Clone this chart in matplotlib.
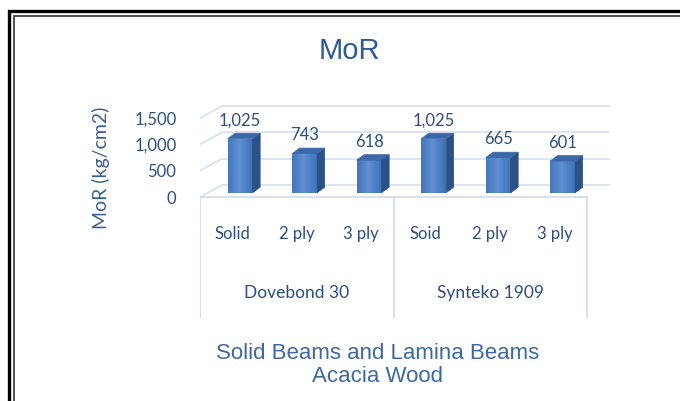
import matplotlib
matplotlib.use("Agg")
import matplotlib.pyplot as plt
from matplotlib.patches import Polygon, Rectangle
import numpy as np

# ---- data ----
categories = ["Solid", "2 ply", "3 ply", "Soid", "2 ply", "3 ply"]
groups = ["Dovebond 30", "Synteko 1909"]
values = [1025, 743, 618, 1025, 665, 601]
yticks = [0, 500, 1000, 1500]
title = "MoR"
ylabel = "MoR (kg/cm2)"
xtitle = "Solid Beams and Lamina Beams\nAcacia Wood"

W, H = 680, 401
fig = plt.figure(figsize=(W / 100, H / 100), dpi=100)
fig.patch.set_facecolor("white")

CAL = ["Lato", "DejaVu Sans"]
ARI = ["Liberation Sans", "DejaVu Sans"]
TXT = "#2D4E7E"
GRID = "#D8E3F1"
TABLE = "#D3DEEB"

# axes geometry in pixels
px_l, px_r, px_t, px_b = 200, 620, 95, 320
cat_px = 64.5
K = 19.0          # value units per pixel
y0_px = 197       # pixel row of value 0 on the front plane
ax = fig.add_axes([px_l / W, 1 - px_b / H, (px_r - px_l) / W, (px_b - px_t) / H])
ax.set_xlim(0, (px_r - px_l) / cat_px)
ax.set_ylim((y0_px - px_b) * K, (y0_px - px_t) * K)
for s in ax.spines.values():
    s.set_visible(False)
ax.set_facecolor("none")

n = len(values)
DX, DY = 22 / cat_px, 12 * K          # depth of the floor / back wall
f = 0.36
dx0, dy0 = f * DX, f * DY            # bar front plane offset
bw = 25 / cat_px
bdx, bdy = 7.5 / cat_px, 5.5 * K

# back wall + side wall gridlines
for v in yticks:
    ax.plot([DX, n + DX], [v + DY, v + DY], color=GRID, lw=1.3, zorder=1)
    ax.plot([0, DX], [v, v + DY], color=GRID, lw=1.3, zorder=1)

# table lines (category axis)
ybot = (y0_px - 317) * K
ax.plot([0, n], [0, 0], color=TABLE, lw=1.3, zorder=2)
for xv in [0, n / 2, n]:
    ax.plot([xv, xv], [0, ybot], color=TABLE, lw=1.3, zorder=2)

# gradient for the bar front
grad = np.linspace(0, 1, 64)
shade = 1 - np.abs(grad - 0.45) * 1.6
c_dark = np.array([0x3A, 0x6C, 0xB2]) / 255
c_light = np.array([0x5D, 0x90, 0xD4]) / 255
img = (c_dark[None, :] + (c_light - c_dark)[None, :] * np.clip(shade, 0, 1)[:, None])[None, :, :]

for i, v in enumerate(values):
    c = i + 0.5 + dx0
    x1, x2 = c - bw / 2, c + bw / 2
    yb, yt = dy0, dy0 + v
    ax.imshow(img, extent=(x1, x2, yb, yt), aspect="auto", zorder=3, interpolation="bilinear")
    side = Polygon([[x2, yb], [x2 + bdx, yb + bdy], [x2 + bdx, yt + bdy], [x2, yt]],
                   closed=True, facecolor="#2C5088", edgecolor="#2C5088", lw=0.5, zorder=3)
    top = Polygon([[x1, yt], [x1 + bdx, yt + bdy], [x2 + bdx, yt + bdy], [x2, yt]],
                  closed=True, facecolor="#3D68A8", edgecolor="#3D68A8", lw=0.5, zorder=3)
    ax.add_patch(side)
    ax.add_patch(top)
    ax.annotate(f"{v:,}", (c, yt + bdy), xytext=(0, 5), textcoords="offset pixels",
                ha="center", va="bottom", fontsize=12, family=CAL, color=TXT, zorder=4)

ax.set_xlim(0, (px_r - px_l) / cat_px)
ax.set_ylim((y0_px - px_b) * K, (y0_px - px_t) * K)

# category and group labels
for i, cat in enumerate(categories):
    ax.text(i + 0.5, (y0_px - 234) * K, cat, ha="center", va="center",
            fontsize=12, family=CAL, color=TXT)
for g, name in enumerate(groups):
    ax.text(g * n / 2 + n / 4, (y0_px - 293) * K, name, ha="center", va="center",
            fontsize=12.5, family=CAL, color=TXT)

# y ticks
ax.set_xticks([])
ax.set_yticks(yticks)
ax.set_yticklabels([f"{t:,}" for t in yticks], family=CAL, fontsize=12, color=TXT)
ax.tick_params(axis="y", length=0, pad=17)

# titles
fig.text(349 / W, 1 - 51 / H, title, ha="center", va="center", fontsize=21,
         family=ARI, color="#2E5A96")
fig.text(101 / W, 1 - 168 / H, ylabel, ha="center", va="center", rotation=90,
         fontsize=14, family=CAL, color="#3A5F94")
fig.text(378 / W, 1 - 365 / H, xtitle, ha="center", va="center", fontsize=16,
         family=ARI, color="#3E68A3", linespacing=1.15)

# outer double frame
fig.add_artist(Rectangle((9 / W, -0.1), 1.2, 1 - 11 / H + 0.1, transform=fig.transFigure,
                         fill=False, edgecolor="black", lw=2.4))
fig.add_artist(Rectangle((14 / W, -0.1), 1.2, 1 - 16 / H + 0.1, transform=fig.transFigure,
                         fill=False, edgecolor="#333333", lw=1.2))

fig.savefig("out.png", dpi=100, facecolor="white")
